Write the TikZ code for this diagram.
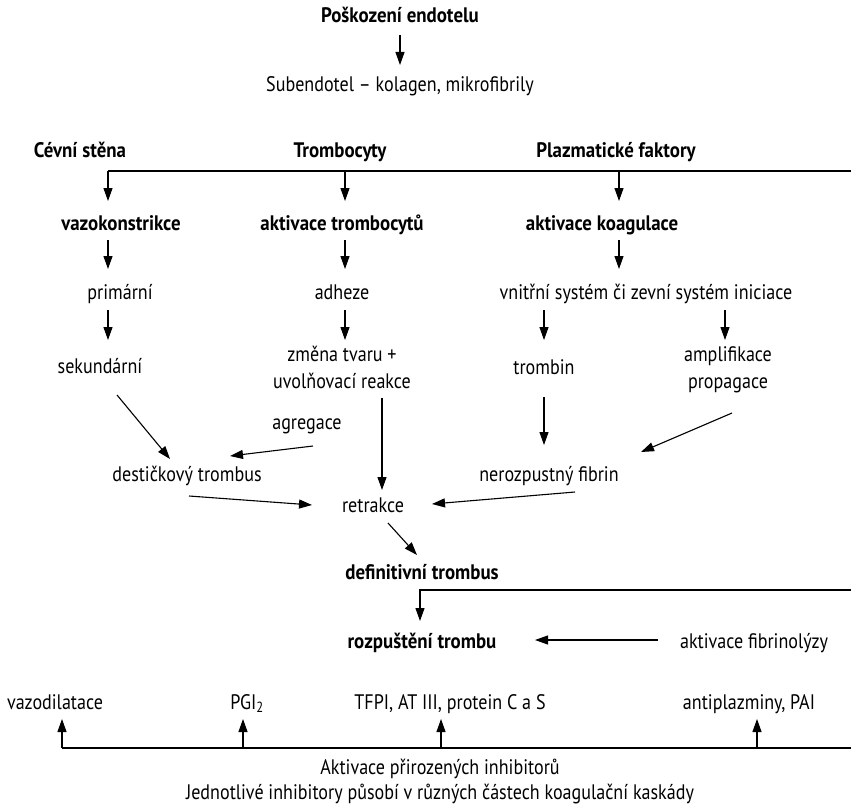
\documentclass[tikz,border=0pt]{standalone}
\usepackage{fontspec}
\setmainfont{PT Sans}[FakeStretch=0.86, BoldFeatures={FakeStretch=0.90}]
\usetikzlibrary{arrows.meta}
\newcommand{\mainsz}{\fontsize{21}{25}\selectfont}
\tikzset{
  txt/.style={inner sep=0pt, anchor=base, font=\mainsz, align=center},
  bld/.style={txt, font=\mainsz\bfseries},
  arr/.style={line width=1.1pt, -{Triangle[length=13pt,width=9pt]}},
  ln/.style={line width=1.1pt},
}
\begin{document}
\begin{tikzpicture}[x=1pt,y=-1pt]
\useasboundingbox (0,0) rectangle (851,808);
% nodes
\node[bld] (top) at (400,23) {Poškození endotelu};
\node[txt] (sub) at (400,92) {Subendotel – kolagen, mikrofibrily};
\node[bld] (cev) at (80,157) {Cévní stěna};
\node[bld] (trom) at (340,157) {Trombocyty};
\node[bld] (plaz) at (616,157) {Plazmatické faktory};
\node[bld] (vazo) at (121,230) {vazokonstrikce};
\node[bld] (aktr) at (342,230) {aktivace trombocytů};
\node[bld] (akko) at (602,230) {aktivace koagulace};
\node[txt] (pri) at (120,299) {primární};
\node[txt] (adh) at (342,299) {adheze};
\node[txt] (vni) at (646,299) {vnitřní systém či zevní systém iniciace};
\node[txt] (sek) at (100,373) {sekundární};
\node[txt] (zmena) at (342,388) {změna tvaru +\\[2pt]uvolňovací reakce};
\node[txt] (trombin) at (544,374) {trombin};
\node[txt] (ampl) at (728,388) {amplifikace\\[2pt]propagace};
\node[txt] (agr) at (307,429) {agregace};
\node[txt] (dest) at (187,481) {destičkový trombus};
\node[txt] (fib) at (549,481) {nerozpustný fibrin};
\node[txt] (ret) at (373,512) {retrakce};
\node[bld] (def) at (422,579) {definitivní trombus};
\node[bld] (roz) at (422,648) {rozpuštění trombu};
\node[txt] (fibr) at (754,648) {aktivace fibrinolýzy};
\node[txt] (vazod) at (55,709) {vazodilatace};
\node[txt] (pgi) at (247,709) {PGI\textsubscript{2}};
\node[txt] (tfpi) at (450,709) {TFPI, AT III, protein C a S};
\node[txt] (anti) at (749,709) {antiplazminy, PAI};
\node[txt] (akt) at (440,774) {Aktivace přirozených inhibitorů};
\node[txt] (jedn) at (440,799) {Jednotlivé inhibitory působí v různých částech koagulační kaskády};
% coordinates
\coordinate (h1) at (108,171);
\coordinate (h2) at (345,171);
\coordinate (h3) at (619,171);
\coordinate (hR) at (851,171);
\coordinate (defR) at (851,590);
\coordinate (b1) at (62,748);
\coordinate (b2) at (243,748);
\coordinate (b3) at (441,748);
\coordinate (b4) at (757,748);
\coordinate (bR) at (851,748);
% connectors
\draw[arr] ([shift={(0,12)}]top.base) -- ([shift={(0,-27)}]sub.base);
\draw[ln] (h1) -- (hR);
\draw[arr] (h1) -- ([shift={(-13,-29)}]vazo.base);
\draw[arr] (h2) -- ([shift={(3,-29)}]aktr.base);
\draw[arr] (h3) -- ([shift={(17,-29)}]akko.base);
\draw[arr] ([shift={(-13,10)}]vazo.base) -- ([shift={(-12,-30)}]pri.base);
\draw[arr] ([shift={(3,10)}]aktr.base) -- ([shift={(3,-30)}]adh.base);
\draw[arr] ([shift={(17,10)}]akko.base) -- ([shift={(-27,-30)}]vni.base);
\draw[arr] ([shift={(-12,11)}]pri.base) -- ([shift={(8,-33)}]sek.base);
\draw[arr] ([shift={(3,11)}]adh.base) -- ([shift={(3,-48)}]zmena.base);
\draw[arr] ([shift={(-102,11)}]vni.base) -- ([shift={(0,-34)}]trombin.base);
\draw[arr] ([shift={(79,11)}]vni.base) -- ([shift={(-3,-48)}]ampl.base);
\draw[arr] ([shift={(17,22)}]sek.base) -- ([shift={(-17,-22)}]dest.base);
\draw[arr] ([shift={(6,17)}]agr.base) -- ([shift={(43,-25)}]dest.base);
\draw[arr] ([shift={(2,15)}]dest.base) -- ([shift={(-61,-7)}]ret.base);
\draw[arr] ([shift={(40,10)}]zmena.base) -- ([shift={(9,-22)}]ret.base);
\draw[arr] ([shift={(0,23)}]trombin.base) -- ([shift={(-5,-36)}]fib.base);
\draw[arr] ([shift={(4,25)}]ampl.base) -- ([shift={(92,-29)}]fib.base);
\draw[arr] ([shift={(26,11)}]fib.base) -- ([shift={(59,-8)}]ret.base);
\draw[arr] ([shift={(15,11)}]ret.base) -- ([shift={(-5,-24)}]def.base);
\draw[arr] (defR) -| ([shift={(-2,-27)}]roz.base);
\draw[arr] ([shift={(-96,-8)}]fibr.base) -- ([shift={(113,-8)}]roz.base);
\draw[ln] (b1) -- (bR);
\draw[arr] (b1) -- ([shift={(7,10)}]vazod.base);
\draw[arr] (b2) -- ([shift={(-4,10)}]pgi.base);
\draw[arr] (b3) -- ([shift={(-9,10)}]tfpi.base);
\draw[arr] (b4) -- ([shift={(8,10)}]anti.base);
\end{tikzpicture}
\end{document}
